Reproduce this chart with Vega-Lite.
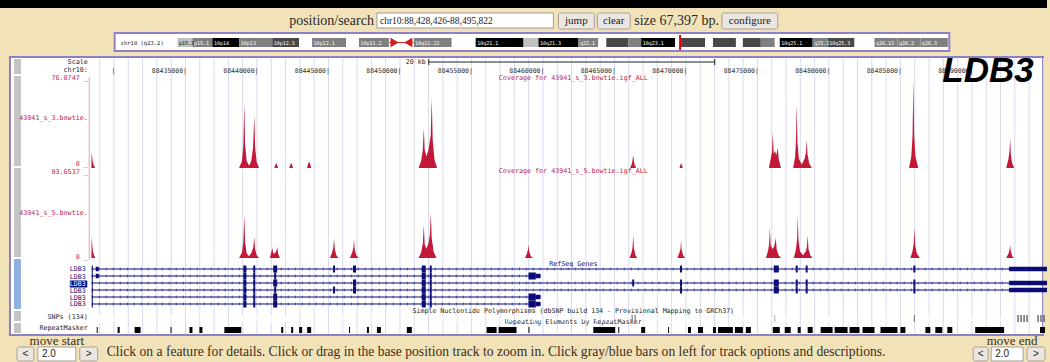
{
"$schema":"https://vega.github.io/schema/vega-lite/v6.json",
"width":1050,"height":362,"autosize":{"type":"fit","contains":"padding"},"padding":0,
"background":"#f2e2b8",
"config":{"view":{"fill":"#ffffff","stroke":null},"axis":{"disable":true}},
"data":{"values":[{}]},
"datasets":{
"grid":[{"pos":88429000},{"pos":88430000},{"pos":88431000},{"pos":88432000},{"pos":88433000},{"pos":88434000},{"pos":88435000},{"pos":88436000},{"pos":88437000},{"pos":88438000},{"pos":88439000},{"pos":88440000},{"pos":88441000},{"pos":88442000},{"pos":88443000},{"pos":88444000},{"pos":88445000},{"pos":88446000},{"pos":88447000},{"pos":88448000},{"pos":88449000},{"pos":88450000},{"pos":88451000},{"pos":88452000},{"pos":88453000},{"pos":88454000},{"pos":88455000},{"pos":88456000},{"pos":88457000},{"pos":88458000},{"pos":88459000},{"pos":88460000},{"pos":88461000},{"pos":88462000},{"pos":88463000},{"pos":88464000},{"pos":88465000},{"pos":88466000},{"pos":88467000},{"pos":88468000},{"pos":88469000},{"pos":88470000},{"pos":88471000},{"pos":88472000},{"pos":88473000},{"pos":88474000},{"pos":88475000},{"pos":88476000},{"pos":88477000},{"pos":88478000},{"pos":88479000},{"pos":88480000},{"pos":88481000},{"pos":88482000},{"pos":88483000},{"pos":88484000},{"pos":88485000},{"pos":88486000},{"pos":88487000},{"pos":88488000},{"pos":88489000},{"pos":88490000},{"pos":88491000},{"pos":88492000},{"pos":88493000},{"pos":88494000},{"pos":88495000}],
"ticks":[{"pos":88430000,"label":"|"},{"pos":88435000,"label":"88435000|"},{"pos":88440000,"label":"88440000|"},{"pos":88445000,"label":"88445000|"},{"pos":88450000,"label":"88450000|"},{"pos":88455000,"label":"88455000|"},{"pos":88460000,"label":"88460000|"},{"pos":88465000,"label":"88465000|"},{"pos":88470000,"label":"88470000|"},{"pos":88475000,"label":"88475000|"},{"pos":88480000,"label":"88480000|"},{"pos":88485000,"label":"88485000|"},{"pos":88490000,"label":"88490000|"}],
"cov1":[{"pos":88428420,"cov":0},{"pos":88428440,"cov":13.8},{"pos":88428520,"cov":5},{"pos":88428600,"cov":2},{"pos":88428700,"cov":0},{"pos":88438750,"cov":0},{"pos":88438950,"cov":6},{"pos":88439050,"cov":20},{"pos":88439114,"cov":56.2},{"pos":88439170,"cov":20},{"pos":88439280,"cov":6},{"pos":88439450,"cov":2},{"pos":88439600,"cov":6},{"pos":88439730,"cov":18},{"pos":88439811,"cov":45.8},{"pos":88439870,"cov":18},{"pos":88439980,"cov":5},{"pos":88440150,"cov":0},{"pos":88441200,"cov":0},{"pos":88441300,"cov":3},{"pos":88441346,"cov":4.3},{"pos":88441400,"cov":3},{"pos":88441480,"cov":0},{"pos":88442250,"cov":0},{"pos":88442340,"cov":3},{"pos":88442392,"cov":4.3},{"pos":88442440,"cov":3},{"pos":88442530,"cov":0},{"pos":88443500,"cov":0},{"pos":88443590,"cov":4},{"pos":88443647,"cov":5.2},{"pos":88443700,"cov":4},{"pos":88443800,"cov":0},{"pos":88451300,"cov":0},{"pos":88451480,"cov":6},{"pos":88451600,"cov":16},{"pos":88451666,"cov":34.6},{"pos":88451730,"cov":16},{"pos":88451850,"cov":10},{"pos":88452000,"cov":16},{"pos":88452150,"cov":28},{"pos":88452224,"cov":60.5},{"pos":88452290,"cov":24},{"pos":88452420,"cov":7},{"pos":88452600,"cov":0},{"pos":88466100,"cov":0},{"pos":88466230,"cov":4},{"pos":88466311,"cov":11.2},{"pos":88466380,"cov":4},{"pos":88466520,"cov":0},{"pos":88469550,"cov":0},{"pos":88469620,"cov":3},{"pos":88469658,"cov":4.3},{"pos":88469700,"cov":3},{"pos":88469780,"cov":0},{"pos":88475800,"cov":0},{"pos":88475930,"cov":8},{"pos":88476020,"cov":14},{"pos":88476074,"cov":30.2},{"pos":88476140,"cov":12},{"pos":88476230,"cov":15},{"pos":88476320,"cov":11},{"pos":88476422,"cov":17.3},{"pos":88476500,"cov":7},{"pos":88476650,"cov":0},{"pos":88477500,"cov":0},{"pos":88477640,"cov":10},{"pos":88477700,"cov":25},{"pos":88477747,"cov":54.5},{"pos":88477800,"cov":22},{"pos":88477900,"cov":8},{"pos":88478100,"cov":3},{"pos":88478300,"cov":8},{"pos":88478400,"cov":14},{"pos":88478445,"cov":24.2},{"pos":88478500,"cov":12},{"pos":88478620,"cov":4},{"pos":88478800,"cov":0},{"pos":88485600,"cov":0},{"pos":88485760,"cov":10},{"pos":88485850,"cov":28},{"pos":88485906,"cov":76},{"pos":88485960,"cov":28},{"pos":88486050,"cov":10},{"pos":88486250,"cov":0},{"pos":88492400,"cov":0},{"pos":88492560,"cov":8},{"pos":88492630,"cov":15},{"pos":88492671,"cov":25.9},{"pos":88492720,"cov":12},{"pos":88492800,"cov":5},{"pos":88492950,"cov":0},{"pos":88495251,"cov":0}],
"cov2":[{"pos":88428420,"cov":0},{"pos":88428440,"cov":23.1},{"pos":88428520,"cov":8},{"pos":88428600,"cov":3},{"pos":88428700,"cov":0},{"pos":88438750,"cov":0},{"pos":88438950,"cov":6},{"pos":88439050,"cov":18},{"pos":88439114,"cov":47.4},{"pos":88439170,"cov":18},{"pos":88439280,"cov":5},{"pos":88439450,"cov":2},{"pos":88439620,"cov":6},{"pos":88439750,"cov":12},{"pos":88439811,"cov":23.1},{"pos":88439870,"cov":10},{"pos":88439980,"cov":3},{"pos":88440150,"cov":0},{"pos":88440900,"cov":0},{"pos":88441000,"cov":6},{"pos":88441067,"cov":11},{"pos":88441150,"cov":5},{"pos":88441250,"cov":5},{"pos":88441360,"cov":8},{"pos":88441415,"cov":12.1},{"pos":88441480,"cov":5},{"pos":88441600,"cov":0},{"pos":88445100,"cov":0},{"pos":88445260,"cov":6},{"pos":88445340,"cov":12},{"pos":88445390,"cov":22},{"pos":88445440,"cov":10},{"pos":88445550,"cov":3},{"pos":88445700,"cov":0},{"pos":88446500,"cov":0},{"pos":88446660,"cov":6},{"pos":88446740,"cov":11},{"pos":88446785,"cov":19.8},{"pos":88446840,"cov":9},{"pos":88446950,"cov":3},{"pos":88447100,"cov":0},{"pos":88451300,"cov":0},{"pos":88451480,"cov":6},{"pos":88451600,"cov":16},{"pos":88451666,"cov":36.4},{"pos":88451730,"cov":15},{"pos":88451850,"cov":10},{"pos":88451990,"cov":16},{"pos":88452100,"cov":26},{"pos":88452155,"cov":49.6},{"pos":88452220,"cov":22},{"pos":88452350,"cov":7},{"pos":88452550,"cov":0},{"pos":88458750,"cov":0},{"pos":88458880,"cov":5},{"pos":88458950,"cov":9},{"pos":88458989,"cov":14.3},{"pos":88459040,"cov":7},{"pos":88459150,"cov":2},{"pos":88459300,"cov":0},{"pos":88466050,"cov":0},{"pos":88466200,"cov":6},{"pos":88466270,"cov":12},{"pos":88466311,"cov":25.3},{"pos":88466360,"cov":11},{"pos":88466470,"cov":3},{"pos":88466600,"cov":0},{"pos":88469400,"cov":0},{"pos":88469550,"cov":6},{"pos":88469620,"cov":10},{"pos":88469658,"cov":19.8},{"pos":88469700,"cov":9},{"pos":88469800,"cov":3},{"pos":88469950,"cov":0},{"pos":88475600,"cov":0},{"pos":88475740,"cov":8},{"pos":88475820,"cov":15},{"pos":88475864,"cov":33},{"pos":88475930,"cov":14},{"pos":88476050,"cov":10},{"pos":88476180,"cov":13},{"pos":88476283,"cov":22},{"pos":88476350,"cov":9},{"pos":88476480,"cov":3},{"pos":88476650,"cov":0},{"pos":88477550,"cov":0},{"pos":88477700,"cov":10},{"pos":88477780,"cov":22},{"pos":88477817,"cov":47.4},{"pos":88477870,"cov":20},{"pos":88477980,"cov":7},{"pos":88478200,"cov":3},{"pos":88478400,"cov":8},{"pos":88478470,"cov":14},{"pos":88478514,"cov":25.3},{"pos":88478570,"cov":10},{"pos":88478700,"cov":3},{"pos":88478850,"cov":0},{"pos":88485700,"cov":0},{"pos":88485850,"cov":8},{"pos":88485930,"cov":16},{"pos":88485976,"cov":33},{"pos":88486030,"cov":14},{"pos":88486150,"cov":5},{"pos":88486350,"cov":0},{"pos":88492400,"cov":0},{"pos":88492560,"cov":5},{"pos":88492630,"cov":9},{"pos":88492671,"cov":14.3},{"pos":88492720,"cov":7},{"pos":88492820,"cov":2},{"pos":88492950,"cov":0},{"pos":88495251,"cov":0}],
"tx":[{"lane":1,"start":88428445,"end":88495251},{"lane":2,"start":88428445,"end":88459826},{"lane":3,"start":88428445,"end":88495251},{"lane":4,"start":88428445,"end":88495251},{"lane":5,"start":88428445,"end":88459826},{"lane":6,"start":88428445,"end":88459826}],
"exons":[
{"lane":1,"start":88428445,"end":88428520,"kind":"cds"},{"lane":1,"start":88428724,"end":88428930,"kind":"utr"},{"lane":1,"start":88439044,"end":88439255,"kind":"cds"},{"lane":1,"start":88439742,"end":88439881,"kind":"cds"},{"lane":1,"start":88441136,"end":88441415,"kind":"cds"},{"lane":1,"start":88445320,"end":88445460,"kind":"cds"},{"lane":1,"start":88446715,"end":88446925,"kind":"cds"},{"lane":1,"start":88451527,"end":88451806,"kind":"cds"},{"lane":1,"start":88452085,"end":88452224,"kind":"cds"},{"lane":1,"start":88469588,"end":88469728,"kind":"cds"},{"lane":1,"start":88476143,"end":88476492,"kind":"cds"},{"lane":1,"start":88477678,"end":88477817,"kind":"cds"},{"lane":1,"start":88478375,"end":88478514,"kind":"cds"},{"lane":1,"start":88485906,"end":88486046,"kind":"cds"},{"lane":1,"start":88492601,"end":88495251,"kind":"utr"},
{"lane":2,"start":88428445,"end":88428520,"kind":"cds"},{"lane":2,"start":88428724,"end":88428930,"kind":"utr"},{"lane":2,"start":88439044,"end":88439255,"kind":"cds"},{"lane":2,"start":88439742,"end":88439881,"kind":"cds"},{"lane":2,"start":88441206,"end":88441345,"kind":"cds"},{"lane":2,"start":88451527,"end":88451806,"kind":"cds"},{"lane":2,"start":88452085,"end":88452224,"kind":"cds"},{"lane":2,"start":88458989,"end":88459500,"kind":"cds"},{"lane":2,"start":88459500,"end":88459826,"kind":"utr"},
{"lane":3,"start":88428445,"end":88428520,"kind":"cds"},{"lane":3,"start":88439044,"end":88439255,"kind":"cds"},{"lane":3,"start":88439742,"end":88439881,"kind":"cds"},{"lane":3,"start":88441136,"end":88441415,"kind":"cds"},{"lane":3,"start":88446715,"end":88446925,"kind":"cds"},{"lane":3,"start":88451527,"end":88451806,"kind":"cds"},{"lane":3,"start":88452085,"end":88452224,"kind":"cds"},{"lane":3,"start":88466241,"end":88466380,"kind":"cds"},{"lane":3,"start":88469588,"end":88469728,"kind":"cds"},{"lane":3,"start":88476143,"end":88476492,"kind":"cds"},{"lane":3,"start":88477678,"end":88477817,"kind":"cds"},{"lane":3,"start":88478375,"end":88478514,"kind":"cds"},{"lane":3,"start":88485906,"end":88486046,"kind":"cds"},{"lane":3,"start":88492601,"end":88495251,"kind":"utr"},
{"lane":4,"start":88428445,"end":88428520,"kind":"cds"},{"lane":4,"start":88439044,"end":88439255,"kind":"cds"},{"lane":4,"start":88439742,"end":88439881,"kind":"cds"},{"lane":4,"start":88441206,"end":88441345,"kind":"cds"},{"lane":4,"start":88445320,"end":88445460,"kind":"cds"},{"lane":4,"start":88446715,"end":88446925,"kind":"cds"},{"lane":4,"start":88451527,"end":88451806,"kind":"cds"},{"lane":4,"start":88452085,"end":88452224,"kind":"cds"},{"lane":4,"start":88469588,"end":88469728,"kind":"cds"},{"lane":4,"start":88476143,"end":88476492,"kind":"cds"},{"lane":4,"start":88477678,"end":88477817,"kind":"cds"},{"lane":4,"start":88478375,"end":88478514,"kind":"cds"},{"lane":4,"start":88485906,"end":88486046,"kind":"cds"},{"lane":4,"start":88492601,"end":88495251,"kind":"utr"},
{"lane":5,"start":88428445,"end":88428520,"kind":"cds"},{"lane":5,"start":88439044,"end":88439255,"kind":"cds"},{"lane":5,"start":88439742,"end":88439881,"kind":"cds"},{"lane":5,"start":88441136,"end":88441415,"kind":"cds"},{"lane":5,"start":88451527,"end":88451806,"kind":"cds"},{"lane":5,"start":88452085,"end":88452224,"kind":"cds"},{"lane":5,"start":88458989,"end":88459500,"kind":"cds"},{"lane":5,"start":88459500,"end":88459826,"kind":"utr"},
{"lane":6,"start":88428445,"end":88428520,"kind":"cds"},{"lane":6,"start":88439044,"end":88439255,"kind":"cds"},{"lane":6,"start":88439742,"end":88439881,"kind":"cds"},{"lane":6,"start":88441136,"end":88441415,"kind":"cds"},{"lane":6,"start":88451527,"end":88451806,"kind":"cds"},{"lane":6,"start":88452085,"end":88452224,"kind":"cds"},{"lane":6,"start":88458989,"end":88459500,"kind":"cds"},{"lane":6,"start":88459500,"end":88459826,"kind":"utr"}],
"snps":[{"pos":88428515,"func":"other"},{"pos":88428794,"func":"other"},{"pos":88429003,"func":"other"},{"pos":88429491,"func":"other"},{"pos":88429979,"func":"other"},{"pos":88430188,"func":"other"},{"pos":88430398,"func":"other"},{"pos":88430677,"func":"other"},{"pos":88430886,"func":"other"},{"pos":88431165,"func":"other"},{"pos":88431444,"func":"other"},{"pos":88431653,"func":"other"},{"pos":88431862,"func":"other"},{"pos":88432071,"func":"other"},{"pos":88432281,"func":"other"},{"pos":88432490,"func":"other"},{"pos":88432699,"func":"other"},{"pos":88432908,"func":"other"},{"pos":88433187,"func":"other"},{"pos":88433396,"func":"other"},{"pos":88433605,"func":"other"},{"pos":88433815,"func":"other"},{"pos":88434024,"func":"other"},{"pos":88434233,"func":"other"},{"pos":88434442,"func":"other"},{"pos":88434652,"func":"other"},{"pos":88434931,"func":"other"},{"pos":88435418,"func":"other"},{"pos":88435627,"func":"other"},{"pos":88435837,"func":"other"},{"pos":88436046,"func":"other"},{"pos":88436255,"func":"other"},{"pos":88436534,"func":"other"},{"pos":88436883,"func":"other"},{"pos":88437161,"func":"other"},{"pos":88437440,"func":"other"},{"pos":88437929,"func":"other"},{"pos":88438138,"func":"other"},{"pos":88438347,"func":"other"},{"pos":88438765,"func":"other"},{"pos":88438974,"func":"other"},{"pos":88439323,"func":"other"},{"pos":88439602,"func":"other"},{"pos":88439951,"func":"other"},{"pos":88440160,"func":"other"},{"pos":88440439,"func":"other"},{"pos":88440718,"func":"other"},{"pos":88440997,"func":"other"},{"pos":88441206,"func":"other"},{"pos":88441415,"func":"other"},{"pos":88441694,"func":"other"},{"pos":88441973,"func":"other"},{"pos":88442183,"func":"other"},{"pos":88442462,"func":"other"},{"pos":88442811,"func":"other"},{"pos":88443159,"func":"other"},{"pos":88443578,"func":"other"},{"pos":88443926,"func":"other"},{"pos":88444345,"func":"other"},{"pos":88444763,"func":"other"},{"pos":88445182,"func":"other"},{"pos":88445600,"func":"other"},{"pos":88446018,"func":"other"},{"pos":88446437,"func":"other"},{"pos":88446716,"func":"other"},{"pos":88447692,"func":"other"},{"pos":88447971,"func":"other"},{"pos":88448389,"func":"other"},{"pos":88448599,"func":"other"},{"pos":88449087,"func":"other"},{"pos":88449435,"func":"other"},{"pos":88449784,"func":"other"},{"pos":88450899,"func":"other"},{"pos":88451178,"func":"other"},{"pos":88451457,"func":"other"},{"pos":88451736,"func":"other"},{"pos":88452085,"func":"other"},{"pos":88452364,"func":"other"},{"pos":88452643,"func":"other"},{"pos":88452991,"func":"other"},{"pos":88453340,"func":"other"},{"pos":88453689,"func":"other"},{"pos":88453968,"func":"other"},{"pos":88454316,"func":"other"},{"pos":88454665,"func":"other"},{"pos":88454944,"func":"other"},{"pos":88455223,"func":"other"},{"pos":88455572,"func":"other"},{"pos":88456060,"func":"other"},{"pos":88456409,"func":"other"},{"pos":88456758,"func":"other"},{"pos":88457106,"func":"other"},{"pos":88457455,"func":"other"},{"pos":88457734,"func":"other"},{"pos":88458152,"func":"other"},{"pos":88458571,"func":"other"},{"pos":88458989,"func":"other"},{"pos":88459407,"func":"other"},{"pos":88459756,"func":"other"},{"pos":88460872,"func":"other"},{"pos":88461360,"func":"other"},{"pos":88461848,"func":"other"},{"pos":88462546,"func":"other"},{"pos":88462825,"func":"other"},{"pos":88463104,"func":"other"},{"pos":88463382,"func":"other"},{"pos":88463731,"func":"other"},{"pos":88464149,"func":"other"},{"pos":88464428,"func":"other"},{"pos":88464777,"func":"other"},{"pos":88465125,"func":"other"},{"pos":88465544,"func":"other"},{"pos":88466032,"func":"other"},{"pos":88466241,"func":"nonsyn"},{"pos":88466450,"func":"nonsyn"},{"pos":88466659,"func":"other"},{"pos":88466938,"func":"other"},{"pos":88467287,"func":"other"},{"pos":88467636,"func":"other"},{"pos":88468054,"func":"other"},{"pos":88468472,"func":"other"},{"pos":88468821,"func":"other"},{"pos":88469170,"func":"other"},{"pos":88469519,"func":"other"},{"pos":88470007,"func":"other"},{"pos":88470426,"func":"other"},{"pos":88470774,"func":"other"},{"pos":88471123,"func":"other"},{"pos":88471472,"func":"other"},{"pos":88472099,"func":"other"},{"pos":88472727,"func":"other"},{"pos":88473285,"func":"other"},{"pos":88473842,"func":"other"},{"pos":88474052,"func":"other"},{"pos":88474401,"func":"other"},{"pos":88475237,"func":"other"},{"pos":88475586,"func":"other"},{"pos":88475865,"func":"other"},{"pos":88476214,"func":"syn"},{"pos":88476493,"func":"other"},{"pos":88476702,"func":"other"},{"pos":88477051,"func":"other"},{"pos":88477329,"func":"other"},{"pos":88477817,"func":"other"},{"pos":88478166,"func":"other"},{"pos":88478514,"func":"other"},{"pos":88478793,"func":"other"},{"pos":88479979,"func":"other"},{"pos":88480327,"func":"other"},{"pos":88480606,"func":"other"},{"pos":88480885,"func":"other"},{"pos":88481234,"func":"other"},{"pos":88481583,"func":"other"},{"pos":88481931,"func":"other"},{"pos":88482280,"func":"other"},{"pos":88482768,"func":"other"},{"pos":88483256,"func":"other"},{"pos":88483675,"func":"other"},{"pos":88483954,"func":"other"},{"pos":88484163,"func":"other"},{"pos":88485558,"func":"other"},{"pos":88485767,"func":"other"},{"pos":88485976,"func":"nonsyn"},{"pos":88486186,"func":"other"},{"pos":88486674,"func":"other"},{"pos":88486953,"func":"other"},{"pos":88487162,"func":"other"},{"pos":88487441,"func":"other"},{"pos":88487859,"func":"other"},{"pos":88488208,"func":"other"},{"pos":88488557,"func":"other"},{"pos":88488905,"func":"other"},{"pos":88489254,"func":"other"},{"pos":88489533,"func":"other"},{"pos":88489951,"func":"other"},{"pos":88490230,"func":"other"},{"pos":88490440,"func":"other"},{"pos":88490649,"func":"other"},{"pos":88490928,"func":"other"},{"pos":88491137,"func":"other"},{"pos":88491346,"func":"other"},{"pos":88491625,"func":"other"},{"pos":88492043,"func":"other"},{"pos":88492671,"func":"other"},{"pos":88493228,"func":"utr"},{"pos":88493438,"func":"utr"},{"pos":88493647,"func":"utr"},{"pos":88493856,"func":"utr"},{"pos":88494135,"func":"other"},{"pos":88494623,"func":"utr"},{"pos":88494832,"func":"utr"},{"pos":88495042,"func":"utr"}],
"repeats":[{"start":88428794,"end":88428863},{"start":88430258,"end":88430398},{"start":88431444,"end":88431862},{"start":88433954,"end":88434024},{"start":88435279,"end":88435488},{"start":88435976,"end":88436185},{"start":88437720,"end":88438904},{"start":88441694,"end":88441834},{"start":88442392,"end":88442532},{"start":88442950,"end":88443159},{"start":88443508,"end":88443787},{"start":88446437,"end":88446507},{"start":88447692,"end":88447832},{"start":88448389,"end":88448668},{"start":88450481,"end":88450830},{"start":88456060,"end":88456758},{"start":88456897,"end":88458152},{"start":88458989,"end":88459059},{"start":88463521,"end":88465055},{"start":88465265,"end":88465335},{"start":88466868,"end":88467147},{"start":88468751,"end":88468821},{"start":88470146,"end":88470356},{"start":88470844,"end":88471193},{"start":88471890,"end":88472099},{"start":88472239,"end":88473285},{"start":88473424,"end":88473982},{"start":88474191,"end":88474540},{"start":88476074,"end":88476562},{"start":88476911,"end":88477329},{"start":88477817,"end":88478026},{"start":88478514,"end":88478863},{"start":88479421,"end":88480258},{"start":88480397,"end":88481304},{"start":88481443,"end":88482140},{"start":88482350,"end":88483186},{"start":88483605,"end":88484791},{"start":88485000,"end":88485349},{"start":88486744,"end":88487092},{"start":88487441,"end":88487930},{"start":88488278,"end":88488627},{"start":88490230,"end":88492252},{"start":88494762,"end":88495111}],
"bands":[{"start":0,"end":2.63,"stain":"gpos25","name":"p15.3"},{"start":2.63,"end":6.14,"stain":"gpos50","name":"p15.1"},{"start":6.14,"end":10.88,"stain":"gpos100","name":"10p14"},{"start":10.88,"end":16.67,"stain":"gpos50","name":"10p13"},{"start":16.67,"end":21.4,"stain":"gpos75","name":"10p12.3"},{"start":21.4,"end":23.68,"stain":"gneg","name":""},{"start":23.68,"end":29.65,"stain":"gpos50","name":"10p12.1"},{"start":29.65,"end":31.93,"stain":"gneg","name":""},{"start":31.93,"end":37.19,"stain":"gpos50","name":"10p11.2"},{"start":37.19,"end":39.47,"stain":"acen","name":""},{"start":39.47,"end":41.58,"stain":"acen","name":""},{"start":41.58,"end":48.25,"stain":"gpos50","name":"10q11.22"},{"start":48.25,"end":52.46,"stain":"gneg","name":""},{"start":52.46,"end":60.88,"stain":"gpos100","name":"10q21.1"},{"start":60.88,"end":63.51,"stain":"gpos25","name":""},{"start":63.51,"end":70.53,"stain":"gpos100","name":"10q21.3"},{"start":70.53,"end":74.04,"stain":"gpos50","name":"q22.1"},{"start":74.04,"end":75.44,"stain":"gneg","name":""},{"start":75.44,"end":79.3,"stain":"gpos75","name":""},{"start":79.3,"end":81.58,"stain":"gpos50","name":""},{"start":81.58,"end":87.54,"stain":"gpos100","name":"10q23.1"},{"start":87.54,"end":88.6,"stain":"gneg","name":""},{"start":88.6,"end":92.81,"stain":"gpos75","name":""},{"start":92.81,"end":94.21,"stain":"gneg","name":""},{"start":94.21,"end":98.25,"stain":"gpos75","name":""},{"start":98.25,"end":99.47,"stain":"gneg","name":""},{"start":99.47,"end":102.63,"stain":"gpos75","name":""},{"start":102.63,"end":105.09,"stain":"gpos50","name":""},{"start":105.09,"end":105.96,"stain":"gneg","name":""},{"start":105.96,"end":111.75,"stain":"gpos100","name":"10q25.1"},{"start":111.75,"end":114.39,"stain":"gpos50","name":"q25.2"},{"start":114.39,"end":119.12,"stain":"gpos75","name":"10q25.3"},{"start":119.12,"end":122.63,"stain":"gneg","name":""},{"start":122.63,"end":126.67,"stain":"gpos50","name":"q26.13"},{"start":126.67,"end":130.7,"stain":"gpos50","name":"q26.2"},{"start":130.7,"end":135.53,"stain":"gpos50","name":"q26.3"}]
},
"layer":[
{"layer":[
{"mark":{"type":"rect","fill":"#f2e2b8"},"encoding":{"x":{"datum":0,"type":"quantitative","scale":{"domain":[0,1050],"nice":false,"zero":false}},"x2":{"datum":1050},"y":{"datum":0,"type":"quantitative","scale":{"domain":[0,362],"nice":false,"zero":false,"reverse":true}},"y2":{"datum":57}}},
{"mark":{"type":"rect","fill":"#f2e2b8"},"encoding":{"x":{"datum":0},"x2":{"datum":1050},"y":{"datum":335},"y2":{"datum":362}}},
{"mark":{"type":"rect","fill":"#f2e2b8"},"encoding":{"x":{"datum":0},"x2":{"datum":10},"y":{"datum":57},"y2":{"datum":335}}},
{"mark":{"type":"rect","fill":"#f2e2b8"},"encoding":{"x":{"datum":1046},"x2":{"datum":1050},"y":{"datum":57},"y2":{"datum":335}}},
{"mark":{"type":"rect","fill":"#000000"},"encoding":{"x":{"datum":0},"x2":{"datum":1050},"y":{"datum":0},"y2":{"datum":8}}},
{"mark":{"type":"text","text":"position/search","font":"Liberation Serif","fontSize":14,"align":"right","baseline":"middle","fill":"#2a2a2a"},"encoding":{"x":{"datum":375},"y":{"datum":21}}},
{"mark":{"type":"rect","fill":"#ffffff","stroke":"#9a9a9a","strokeWidth":1},"encoding":{"x":{"datum":378},"x2":{"datum":555},"y":{"datum":13},"y2":{"datum":28}}},
{"mark":{"type":"text","text":"chr10:88,428,426-88,495,822","font":"Liberation Serif","fontSize":9.5,"align":"left","baseline":"middle","fill":"#222222"},"encoding":{"x":{"datum":381},"y":{"datum":21}}},
{"mark":{"type":"rect","fill":"#ebe6e0","stroke":"#a8a098","strokeWidth":1,"cornerRadius":2},"encoding":{"x":{"datum":560},"x2":{"datum":596},"y":{"datum":13},"y2":{"datum":29}}},
{"mark":{"type":"text","text":"jump","font":"Liberation Serif","fontSize":11,"align":"center","baseline":"middle","fill":"#222222"},"encoding":{"x":{"datum":578},"y":{"datum":21}}},
{"mark":{"type":"rect","fill":"#ebe6e0","stroke":"#a8a098","strokeWidth":1,"cornerRadius":2},"encoding":{"x":{"datum":599},"x2":{"datum":632},"y":{"datum":13},"y2":{"datum":29}}},
{"mark":{"type":"text","text":"clear","font":"Liberation Serif","fontSize":11,"align":"center","baseline":"middle","fill":"#222222"},"encoding":{"x":{"datum":615.5},"y":{"datum":21}}},
{"mark":{"type":"text","text":"size 67,397 bp.","font":"Liberation Serif","fontSize":14,"align":"left","baseline":"middle","fill":"#2a2a2a"},"encoding":{"x":{"datum":636},"y":{"datum":21}}},
{"mark":{"type":"rect","fill":"#ebe6e0","stroke":"#a8a098","strokeWidth":1,"cornerRadius":2},"encoding":{"x":{"datum":724},"x2":{"datum":780},"y":{"datum":13},"y2":{"datum":29}}},
{"mark":{"type":"text","text":"configure","font":"Liberation Serif","fontSize":11,"align":"center","baseline":"middle","fill":"#222222"},"encoding":{"x":{"datum":752},"y":{"datum":21}}},
{"mark":{"type":"rect","fill":"#ffffff","stroke":"#8f80c8","strokeWidth":2},"encoding":{"x":{"datum":115},"x2":{"datum":952},"y":{"datum":33},"y2":{"datum":51}}},
{"mark":{"type":"text","text":"chr10 (q23.2)","font":"DejaVu Sans Mono","fontSize":5.5,"align":"left","baseline":"middle","fill":"#222222"},"encoding":{"x":{"datum":121},"y":{"datum":42.5}}},
{"mark":{"type":"rect","fill":"#ffffff"},"encoding":{"x":{"datum":11},"x2":{"datum":89},"y":{"datum":58},"y2":{"datum":334}}},
{"mark":{"type":"rect","fill":"#c4c4c4"},"encoding":{"x":{"datum":14},"x2":{"datum":21},"y":{"datum":59},"y2":{"datum":74}}},
{"mark":{"type":"rect","fill":"#c4c4c4"},"encoding":{"x":{"datum":14},"x2":{"datum":21},"y":{"datum":76},"y2":{"datum":166}}},
{"mark":{"type":"rect","fill":"#c4c4c4"},"encoding":{"x":{"datum":14},"x2":{"datum":21},"y":{"datum":168},"y2":{"datum":257}}},
{"mark":{"type":"rect","fill":"#8fb0e0"},"encoding":{"x":{"datum":14},"x2":{"datum":21},"y":{"datum":259},"y2":{"datum":309}}},
{"mark":{"type":"rect","fill":"#c4c4c4"},"encoding":{"x":{"datum":14},"x2":{"datum":21},"y":{"datum":311},"y2":{"datum":321}}},
{"mark":{"type":"rect","fill":"#c4c4c4"},"encoding":{"x":{"datum":14},"x2":{"datum":21},"y":{"datum":323},"y2":{"datum":333}}},
{"mark":{"type":"rect","fill":"#ffffff","fillOpacity":0,"stroke":"#8c80c8","strokeWidth":2},"encoding":{"x":{"datum":10},"x2":{"datum":1046},"y":{"datum":57},"y2":{"datum":335}}},
{"mark":{"type":"rule","stroke":"#e4a2ae","strokeWidth":1},"encoding":{"x":{"datum":89.5},"y":{"datum":77},"y2":{"datum":260}}},
{"mark":{"type":"text","text":"Scale","font":"DejaVu Sans Mono","fontSize":6.7,"align":"right","baseline":"middle","fill":"#222222"},"encoding":{"x":{"datum":88},"y":{"datum":62}}},
{"mark":{"type":"text","text":"chr10:","font":"DejaVu Sans Mono","fontSize":6.7,"align":"right","baseline":"middle","fill":"#222222"},"encoding":{"x":{"datum":88},"y":{"datum":70}}},
{"mark":{"type":"text","text":"76.0747 _","font":"DejaVu Sans Mono","fontSize":6.7,"align":"right","baseline":"middle","fill":"#c0233f"},"encoding":{"x":{"datum":88},"y":{"datum":78}}},
{"mark":{"type":"text","text":"43941_s_3.bowtie.","font":"DejaVu Sans Mono","fontSize":6.7,"align":"right","baseline":"middle","fill":"#c0233f"},"encoding":{"x":{"datum":88},"y":{"datum":118}}},
{"mark":{"type":"text","text":"0 _","font":"DejaVu Sans Mono","fontSize":6.7,"align":"right","baseline":"middle","fill":"#c0233f"},"encoding":{"x":{"datum":88},"y":{"datum":164}}},
{"mark":{"type":"text","text":"93.6537 _","font":"DejaVu Sans Mono","fontSize":6.7,"align":"right","baseline":"middle","fill":"#c0233f"},"encoding":{"x":{"datum":88},"y":{"datum":172}}},
{"mark":{"type":"text","text":"43941_s_5.bowtie.","font":"DejaVu Sans Mono","fontSize":6.7,"align":"right","baseline":"middle","fill":"#c0233f"},"encoding":{"x":{"datum":88},"y":{"datum":213}}},
{"mark":{"type":"text","text":"0 _","font":"DejaVu Sans Mono","fontSize":6.7,"align":"right","baseline":"middle","fill":"#c0233f"},"encoding":{"x":{"datum":88},"y":{"datum":257}}},
{"mark":{"type":"text","text":"LDB3","font":"DejaVu Sans Mono","fontSize":6.7,"align":"right","baseline":"middle","fill":"#0c0c78"},"encoding":{"x":{"datum":86},"y":{"datum":269}}},
{"mark":{"type":"text","text":"LDB3","font":"DejaVu Sans Mono","fontSize":6.7,"align":"right","baseline":"middle","fill":"#0c0c78"},"encoding":{"x":{"datum":86},"y":{"datum":277}}},
{"mark":{"type":"rect","fill":"#0c0c78"},"encoding":{"x":{"datum":70},"x2":{"datum":87.5},"y":{"datum":280.5},"y2":{"datum":287.5}}},
{"mark":{"type":"text","text":"LDB3","font":"DejaVu Sans Mono","fontSize":6.7,"align":"right","baseline":"middle","fill":"#ffffff"},"encoding":{"x":{"datum":86},"y":{"datum":284}}},
{"mark":{"type":"text","text":"LDB3","font":"DejaVu Sans Mono","fontSize":6.7,"align":"right","baseline":"middle","fill":"#0c0c78"},"encoding":{"x":{"datum":86},"y":{"datum":291}}},
{"mark":{"type":"text","text":"LDB3","font":"DejaVu Sans Mono","fontSize":6.7,"align":"right","baseline":"middle","fill":"#0c0c78"},"encoding":{"x":{"datum":86},"y":{"datum":298}}},
{"mark":{"type":"text","text":"LDB3","font":"DejaVu Sans Mono","fontSize":6.7,"align":"right","baseline":"middle","fill":"#0c0c78"},"encoding":{"x":{"datum":86},"y":{"datum":304}}},
{"mark":{"type":"text","text":"SNPs (134)","font":"DejaVu Sans Mono","fontSize":6.7,"align":"right","baseline":"middle","fill":"#222222"},"encoding":{"x":{"datum":88},"y":{"datum":317}}},
{"mark":{"type":"text","text":"RepeatMasker","font":"DejaVu Sans Mono","fontSize":6.7,"align":"right","baseline":"middle","fill":"#222222"},"encoding":{"x":{"datum":88},"y":{"datum":328}}},
{"mark":{"type":"text","text":"move start","font":"Liberation Serif","fontSize":13,"align":"center","baseline":"middle","fill":"#3a2e20"},"encoding":{"x":{"datum":57},"y":{"datum":341}}},
{"mark":{"type":"rect","fill":"#ebe6e0","stroke":"#a8a098","strokeWidth":1,"cornerRadius":2},"encoding":{"x":{"datum":17},"x2":{"datum":34},"y":{"datum":347},"y2":{"datum":361}}},
{"mark":{"type":"text","text":"<","font":"Liberation Sans","fontSize":10,"align":"center","baseline":"middle","fill":"#222222"},"encoding":{"x":{"datum":25.5},"y":{"datum":354}}},
{"mark":{"type":"rect","fill":"#ffffff","stroke":"#a0a0a0","strokeWidth":1},"encoding":{"x":{"datum":38},"x2":{"datum":76},"y":{"datum":347},"y2":{"datum":361}}},
{"mark":{"type":"text","text":"2.0","font":"Liberation Sans","fontSize":10,"align":"left","baseline":"middle","fill":"#222222"},"encoding":{"x":{"datum":42},"y":{"datum":354}}},
{"mark":{"type":"rect","fill":"#ebe6e0","stroke":"#a8a098","strokeWidth":1,"cornerRadius":2},"encoding":{"x":{"datum":80},"x2":{"datum":98},"y":{"datum":347},"y2":{"datum":361}}},
{"mark":{"type":"text","text":">","font":"Liberation Sans","fontSize":10,"align":"center","baseline":"middle","fill":"#222222"},"encoding":{"x":{"datum":89},"y":{"datum":354}}},
{"mark":{"type":"text","text":"Click on a feature for details. Click or drag in the base position track to zoom in. Click gray/blue bars on left for track options and descriptions.","font":"Liberation Serif","fontSize":13.6,"align":"left","baseline":"middle","fill":"#3a2e20"},"encoding":{"x":{"datum":107},"y":{"datum":352}}},
{"mark":{"type":"text","text":"move end","font":"Liberation Serif","fontSize":13,"align":"center","baseline":"middle","fill":"#3a2e20"},"encoding":{"x":{"datum":1015},"y":{"datum":341}}},
{"mark":{"type":"rect","fill":"#ebe6e0","stroke":"#a8a098","strokeWidth":1,"cornerRadius":2},"encoding":{"x":{"datum":976},"x2":{"datum":991},"y":{"datum":347},"y2":{"datum":361}}},
{"mark":{"type":"text","text":"<","font":"Liberation Sans","fontSize":10,"align":"center","baseline":"middle","fill":"#222222"},"encoding":{"x":{"datum":983.5},"y":{"datum":354}}},
{"mark":{"type":"rect","fill":"#ffffff","stroke":"#a0a0a0","strokeWidth":1},"encoding":{"x":{"datum":994},"x2":{"datum":1026},"y":{"datum":347},"y2":{"datum":361}}},
{"mark":{"type":"text","text":"2.0","font":"Liberation Sans","fontSize":10,"align":"left","baseline":"middle","fill":"#222222"},"encoding":{"x":{"datum":998},"y":{"datum":354}}},
{"mark":{"type":"rect","fill":"#ebe6e0","stroke":"#a8a098","strokeWidth":1,"cornerRadius":2},"encoding":{"x":{"datum":1030},"x2":{"datum":1048},"y":{"datum":347},"y2":{"datum":361}}},
{"mark":{"type":"text","text":">","font":"Liberation Sans","fontSize":10,"align":"center","baseline":"middle","fill":"#222222"},"encoding":{"x":{"datum":1039},"y":{"datum":354}}}
]},
{"data":{"name":"bands"},"layer":[
{"transform":[{"filter":"datum.stain != 'acen'"}],"mark":{"type":"rect"},"encoding":{"x":{"field":"start","type":"quantitative","scale":{"domain":[-31.23,152.98],"nice":false,"zero":false}},"x2":{"field":"end"},"y":{"datum":38,"type":"quantitative","scale":{"domain":[0,362],"nice":false,"zero":false,"reverse":true}},"y2":{"datum":47},"color":{"field":"stain","type":"nominal","scale":{"domain":["gneg","gpos25","gpos50","gpos75","gpos100"],"range":["#ffffff","#c0c0c0","#808080","#484848","#000000"]},"legend":null}}},
{"transform":[{"filter":"datum.stain == 'gpos50' || datum.stain == 'gpos75' || datum.stain == 'gpos100'"}],"mark":{"type":"text","font":"DejaVu Sans Mono","fontSize":5,"align":"left","baseline":"middle","dx":1.5,"fill":"#ffffff"},"encoding":{"x":{"field":"start","type":"quantitative"},"y":{"datum":42.5},"text":{"field":"name"}}},
{"transform":[{"filter":"datum.stain == 'gpos25'"}],"mark":{"type":"text","font":"DejaVu Sans Mono","fontSize":5,"align":"left","baseline":"middle","dx":1.5,"fill":"#000000"},"encoding":{"x":{"field":"start","type":"quantitative"},"y":{"datum":42.5},"text":{"field":"name"}}},
{"data":{"values":[{}]},"mark":{"type":"point","shape":"triangle-right","filled":true,"size":90,"color":"#c81e1e","opacity":1},"encoding":{"x":{"datum":38.2},"y":{"datum":42.5}}},
{"data":{"values":[{}]},"mark":{"type":"point","shape":"triangle-left","filled":true,"size":90,"color":"#c81e1e","opacity":1},"encoding":{"x":{"datum":40.6},"y":{"datum":42.5}}},
{"data":{"values":[{}]},"mark":{"type":"rule","color":"#c81e1e","strokeWidth":1},"encoding":{"x":{"datum":37.3},"x2":{"datum":41.5},"y":{"datum":42.5}}},
{"data":{"values":[{}]},"mark":{"type":"rule","color":"#e00000","strokeWidth":2},"encoding":{"x":{"datum":88.43},"y":{"datum":35},"y2":{"datum":50}}}
]},
{"layer":[
{"layer":[
{"data":{"name":"grid"},"mark":{"type":"rule","color":"#d8dbef","strokeWidth":1},"encoding":{"x":{"field":"pos","type":"quantitative","scale":{"domain":[88422029,88495251],"nice":false,"zero":false}},"y":{"datum":58,"type":"quantitative","scale":{"domain":[0,362],"nice":false,"zero":false,"reverse":true}},"y2":{"datum":334}}},
{"data":{"name":"ticks"},"mark":{"type":"text","font":"DejaVu Sans Mono","fontSize":6.5,"align":"right","baseline":"middle","dx":1.5,"fill":"#303030"},"encoding":{"x":{"field":"pos","type":"quantitative"},"y":{"datum":71},"text":{"field":"label"}}},
{"mark":{"type":"rule","color":"#202020","strokeWidth":1},"encoding":{"x":{"datum":88452015},"x2":{"datum":88472015},"y":{"datum":62}}},
{"mark":{"type":"rule","color":"#202020","strokeWidth":1},"encoding":{"x":{"datum":88452015},"y":{"datum":59},"y2":{"datum":65}}},
{"mark":{"type":"rule","color":"#202020","strokeWidth":1},"encoding":{"x":{"datum":88472015},"y":{"datum":59},"y2":{"datum":65}}},
{"mark":{"type":"text","text":"20 kb","font":"DejaVu Sans Mono","fontSize":6.7,"align":"right","baseline":"middle","fill":"#222222"},"encoding":{"x":{"datum":88451806},"y":{"datum":62}}},
{"mark":{"type":"text","text":"Coverage for 43941_s_3.bowtie.igf_ALL","font":"DejaVu Sans Mono","fontSize":6.7,"align":"center","baseline":"middle","fill":"#c0233f"},"encoding":{"x":{"datum":88462124},"y":{"datum":78}}},
{"mark":{"type":"text","text":"Coverage for 43941_s_5.bowtie.igf_ALL","font":"DejaVu Sans Mono","fontSize":6.7,"align":"center","baseline":"middle","fill":"#c0233f"},"encoding":{"x":{"datum":88462124},"y":{"datum":171}}},
{"mark":{"type":"text","text":"RefSeq Genes","font":"DejaVu Sans Mono","fontSize":6.7,"align":"center","baseline":"middle","fill":"#0c0c78"},"encoding":{"x":{"datum":88462124},"y":{"datum":264}}},
{"mark":{"type":"text","text":"Simple Nucleotide Polymorphisms (dbSNP build 134 - Provisional Mapping to GRCh37)","font":"DejaVu Sans Mono","fontSize":6.6,"align":"center","baseline":"middle","fill":"#222222"},"encoding":{"x":{"datum":88462124},"y":{"datum":311}}},
{"mark":{"type":"text","text":"Repeating Elements by RepeatMasker","font":"DejaVu Sans Mono","fontSize":6.7,"align":"center","baseline":"middle","fill":"#222222"},"encoding":{"x":{"datum":88462124},"y":{"datum":322}}},
{"data":{"name":"snps"},"mark":{"type":"rule","strokeWidth":1.2},"encoding":{"x":{"field":"pos","type":"quantitative"},"y":{"datum":315},"y2":{"datum":322},"color":{"field":"func","type":"nominal","scale":{"domain":["other","syn","nonsyn","utr"],"range":["#000000","#00b000","#c81e1e","#2020e0"]},"legend":null}}},
{"data":{"name":"repeats"},"mark":{"type":"rect","color":"#000000"},"encoding":{"x":{"field":"start","type":"quantitative"},"x2":{"field":"end"},"y":{"datum":327},"y2":{"datum":333}}}
]},
{"data":{"name":"cov1"},"mark":{"type":"area","color":"#c41838","interpolate":"linear"},"encoding":{"x":{"field":"pos","type":"quantitative"},"y":{"field":"cov","type":"quantitative","scale":{"domain":[-167.7,145.2],"nice":false,"zero":false}},"y2":{"datum":0}}},
{"data":{"name":"cov2"},"mark":{"type":"area","color":"#c41838","interpolate":"linear"},"encoding":{"x":{"field":"pos","type":"quantitative"},"y":{"field":"cov","type":"quantitative","scale":{"domain":[-114.6,284.2],"nice":false,"zero":false}},"y2":{"datum":0}}},
{"layer":[
{"data":{"name":"tx"},"mark":{"type":"rule","color":"#0c0c78","strokeWidth":1},"encoding":{"x":{"field":"start","type":"quantitative"},"x2":{"field":"end"},"y":{"field":"lane","type":"quantitative","scale":{"domain":[-37.43,14.286],"reverse":true,"nice":false,"zero":false}}}},
{"data":{"name":"tx"},"mark":{"type":"rule","color":"#0c0c78","strokeWidth":3,"strokeDash":[1,6],"opacity":0.55},"encoding":{"x":{"field":"start","type":"quantitative"},"x2":{"field":"end"},"y":{"field":"lane","type":"quantitative"}}},
{"data":{"name":"exons"},"mark":{"type":"rule","color":"#0c0c78","strokeCap":"butt"},"encoding":{"x":{"field":"start","type":"quantitative"},"x2":{"field":"end"},"y":{"field":"lane","type":"quantitative"},"size":{"field":"kind","type":"ordinal","scale":{"domain":["utr","cds"],"range":[4.5,7]},"legend":null}}}
]}
],"resolve":{"scale":{"y":"independent"}}},
{"layer":[
{"mark":{"type":"text","text":"LDB3","font":"Liberation Sans","fontSize":35,"fontWeight":"bold","fontStyle":"italic","align":"left","baseline":"alphabetic","fill":"#000000"},"encoding":{"x":{"datum":945,"type":"quantitative","scale":{"domain":[0,1050],"nice":false,"zero":false}},"y":{"datum":82,"type":"quantitative","scale":{"domain":[0,362],"nice":false,"zero":false,"reverse":true}}}}
]}
],
"resolve":{"scale":{"x":"independent","y":"independent"}}
}
